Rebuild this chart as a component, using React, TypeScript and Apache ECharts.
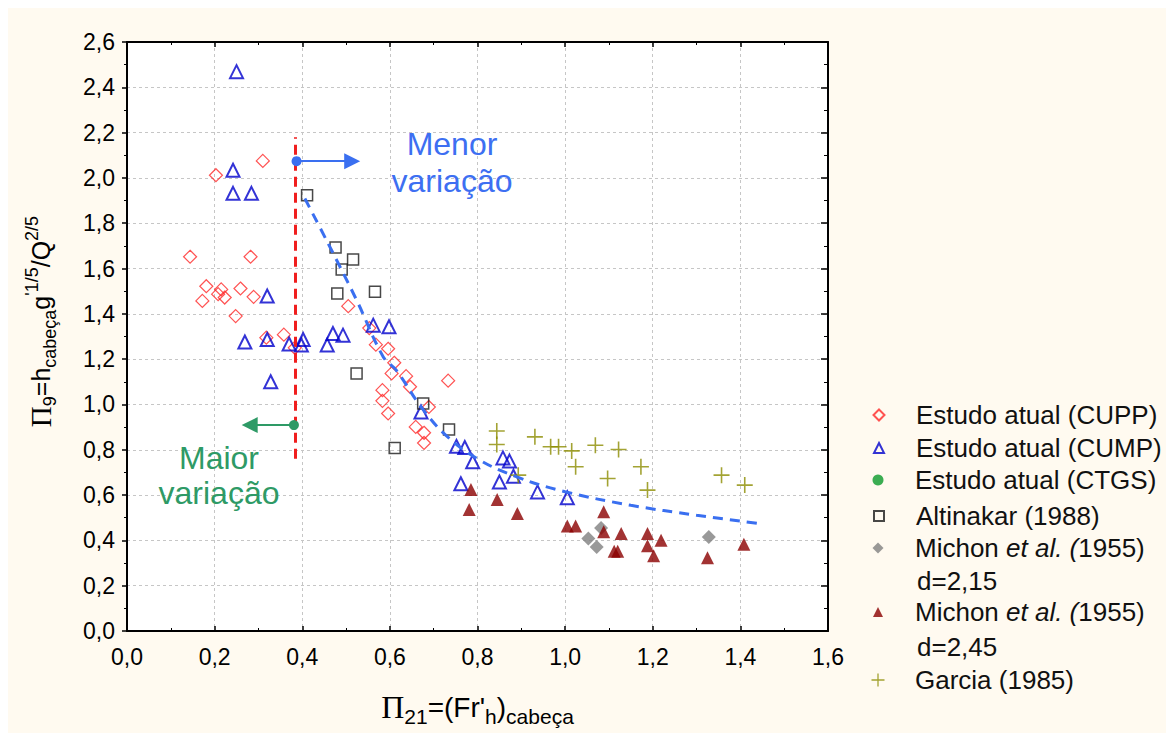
import React, { useEffect, useRef } from 'react';
import * as echarts from 'echarts';

const FONT = "'Liberation Sans', Arial, Helvetica, sans-serif";
const SERIF = "'Liberation Serif', 'Times New Roman', serif";

// ---- data ----
const seriesNames = [
  'Estudo atual (CUPP)',
  'Estudo atual (CUMP)',
  'Estudo atual (CTGS)',
  'Altinakar (1988)',
  'Michon et al. (1955) d=2,15',
  'Michon et al. (1955) d=2,45',
  'Garcia (1985)',
];

const cuppData = [
  [0.310, 2.075], [0.203, 2.012], [0.144, 1.652], [0.282, 1.652], [0.181, 1.522],
  [0.172, 1.457], [0.215, 1.508], [0.208, 1.487], [0.223, 1.472], [0.259, 1.512],
  [0.289, 1.475], [0.248, 1.390], [0.505, 1.434], [0.318, 1.295], [0.358, 1.308],
  [0.383, 1.250], [0.553, 1.337], [0.568, 1.264], [0.596, 1.246], [0.610, 1.184],
  [0.604, 1.137], [0.637, 1.125], [0.646, 1.078], [0.583, 1.063], [0.583, 1.016],
  [0.596, 0.960], [0.733, 1.105], [0.689, 0.989], [0.659, 0.901], [0.678, 0.875],
  [0.678, 0.830],
];

const cumpData = [
  [0.250, 2.469], [0.242, 2.034], [0.242, 1.932], [0.284, 1.932], [0.320, 1.479],
  [0.269, 1.276], [0.320, 1.287], [0.370, 1.267], [0.398, 1.262], [0.402, 1.287],
  [0.457, 1.262], [0.470, 1.313], [0.493, 1.306], [0.562, 1.350], [0.598, 1.343],
  [0.328, 1.100], [0.671, 0.967], [0.752, 0.815], [0.771, 0.810], [0.789, 0.747],
  [0.762, 0.650], [0.858, 0.764], [0.873, 0.750], [0.850, 0.658], [0.882, 0.683],
  [0.937, 0.614], [1.005, 0.588],
];

const ctgsData: number[][] = [];

const altinakarData = [
  [0.411, 1.924], [0.476, 1.693], [0.490, 1.596], [0.516, 1.640], [0.480, 1.490],
  [0.566, 1.497], [0.524, 1.137], [0.676, 1.004], [0.735, 0.890], [0.611, 0.808],
];

const michon215Data = [
  [1.053, 0.408], [1.072, 0.371], [1.082, 0.455], [1.328, 0.415],
];

const michon245Data = [
  [0.785, 0.625], [0.781, 0.536], [0.845, 0.581], [0.891, 0.519], [1.005, 0.464],
  [1.024, 0.464], [1.088, 0.526], [1.088, 0.438], [1.128, 0.430], [1.112, 0.352],
  [1.120, 0.352], [1.188, 0.430], [1.188, 0.376], [1.202, 0.332], [1.219, 0.401],
  [1.325, 0.323], [1.408, 0.383],
];

const garciaData = [
  [0.844, 0.883], [0.844, 0.823], [0.931, 0.857], [0.967, 0.813], [0.985, 0.813],
  [1.015, 0.795], [1.069, 0.820], [1.122, 0.801], [1.024, 0.725], [1.173, 0.725],
  [1.097, 0.673], [0.893, 0.688], [1.188, 0.622], [1.357, 0.688], [1.410, 0.644],
];

const trendData = [
  [0.406, 1.909], [0.459, 1.711], [0.524, 1.461], [0.585, 1.210], [0.615, 1.150],
  [0.671, 0.990], [0.730, 0.860], [0.800, 0.760], [0.890, 0.680], [1.000, 0.615],
  [1.150, 0.555], [1.300, 0.511], [1.444, 0.474],
];

const dividerLine = [[0.385, 0.76], [0.385, 2.18]];
const menorArrow = [[0.387, 2.074], [0.514, 2.074]];
const maiorArrow = [[0.381, 0.909], [0.280, 0.909]];

const xMin = 0, xMax = 1.6, xStep = 0.2;
const yMin = 0, yMax = 2.6, yStep = 0.2;

const fmt = (v: number) => v.toFixed(1).replace('.', ',');

const makeNameRich = (main: number, sub: number, pi: number, lh: number) => ({
  pi: { fontFamily: SERIF, fontSize: pi, lineHeight: lh, color: '#000', verticalAlign: 'middle' },
  n: { fontFamily: FONT, fontSize: main, lineHeight: lh, color: '#000', verticalAlign: 'middle' },
  sub: { fontFamily: FONT, fontSize: sub, lineHeight: sub - 1, color: '#000', verticalAlign: 'bottom' },
  sup: { fontFamily: FONT, fontSize: sub, lineHeight: sub - 1, color: '#000', verticalAlign: 'top' },
});

export default function App() {
  const ref = useRef<HTMLDivElement>(null);

  useEffect(() => {
    document.body.style.overflow = 'hidden';
    if (!ref.current) return;
    const chart = echarts.init(ref.current, undefined, { renderer: 'svg' });

    const axisLineStyle = { color: '#000', width: 2 };
    const splitLine = { show: true, lineStyle: { color: '#c6c6c6', type: [3, 3], width: 1 } };
    const labelStyle = { fontFamily: FONT, fontSize: 23, color: '#000', formatter: fmt };

    const symbolStyles: any[] = [
      { symbol: 'diamond', symbolSize: 13, itemStyle: { color: 'rgba(255,255,255,0)', borderColor: '#ff2828', borderWidth: 1.2 } },
      { symbol: 'triangle', symbolSize: 13, itemStyle: { color: 'rgba(255,255,255,0)', borderColor: '#0000cc', borderWidth: 2 } },
      { symbol: 'circle', symbolSize: 10, itemStyle: { color: '#0a9a2a' } },
      { symbol: 'rect', symbolSize: 11, itemStyle: { color: 'rgba(255,255,255,0)', borderColor: '#1a1a1a', borderWidth: 1.5 } },
      { symbol: 'diamond', symbolSize: 14, itemStyle: { color: '#808080' } },
      { symbol: 'triangle', symbolSize: 13, itemStyle: { color: '#8b0000' } },
      { symbol: 'path://M0,7.2H16V8.8H0ZM7.2,0H8.8V16H7.2Z', symbolSize: 16, itemStyle: { color: '#8c8c00' } },
    ];
    const datas = [cuppData, cumpData, ctgsData, altinakarData, michon215Data, michon245Data, garciaData];

    const scatterSeries = seriesNames.map((name, i) => ({
      type: 'scatter',
      name,
      data: datas[i],
      ...symbolStyles[i],
      z: 3,
    }));

    const legendCenters = [407, 440, 472, 508, 540, 604, 672];
    const legendSizes = [11, 10, 11, 10, 11, 10, 13];
    const legends = seriesNames.map((name, i) => {
      const s = legendSizes[i];
      return {
        show: true,
        data: [name],
        left: 870 - s / 2,
        top: legendCenters[i] - 15,
        orient: 'vertical',
        padding: 0,
        itemWidth: s,
        itemHeight: s,
        selectedMode: false,
        textStyle: {
          fontFamily: FONT, fontSize: 26, color: '#111', lineHeight: 30,
          rich: {
            sp: { width: 32 - s / 2, fontSize: 26, lineHeight: 30 },
            n: { fontFamily: FONT, fontSize: 26, color: '#111', lineHeight: 30 },
            i: { fontFamily: FONT, fontSize: 26, color: '#111', fontStyle: 'italic', lineHeight: 30 },
          },
        },
        formatter: (n: string) => {
          if (n.startsWith('Michon')) return '{sp|}{n|Michon }{i|et al. (}{n|1955)}';
          return '{sp|}{n|' + n + '}';
        },
      };
    });

    const option: any = {
      animation: false,
      backgroundColor: '#fffaf0',
      grid: { left: 119, right: 346, top: 34, bottom: 102, show: true, backgroundColor: '#ffffff', borderWidth: 0 },
      legend: legends,
      xAxis: [
        {
          type: 'value', min: xMin, max: xMax, interval: xStep, position: 'bottom',
          axisLine: { show: true, onZero: false, lineStyle: axisLineStyle },
          axisTick: { show: true, inside: true, length: 5, lineStyle: { color: '#000', width: 1.5 } },
          minorTick: { show: true, splitNumber: 2, length: 3, lineStyle: { color: '#000', width: 1 } },
          axisLabel: { ...labelStyle, margin: 14 },
          splitLine,
          name: '{pi|Π}{sub|21}{n|=(Fr\'}{sub|h}{n|)}{sub|cabeça}',
          nameLocation: 'middle',
          nameGap: 56,
          nameTextStyle: { rich: makeNameRich(28, 21, 32, 40) },
        },
        {
          type: 'value', min: xMin, max: xMax, interval: xStep, position: 'top',
          axisLine: { show: true, onZero: false, lineStyle: axisLineStyle },
          axisTick: { show: true, inside: true, length: 5, lineStyle: { color: '#000', width: 1.5 } },
          minorTick: { show: true, splitNumber: 2, length: 3, lineStyle: { color: '#000', width: 1 } },
          axisLabel: { show: false },
          splitLine: { show: false },
        },
      ],
      yAxis: [
        {
          type: 'value', min: yMin, max: yMax, interval: yStep, position: 'left',
          axisLine: { show: true, onZero: false, lineStyle: axisLineStyle },
          axisTick: { show: true, inside: false, length: 5, lineStyle: { color: '#000', width: 1.5 } },
          minorTick: { show: true, splitNumber: 2, length: 3, lineStyle: { color: '#000', width: 1 } },
          axisLabel: { ...labelStyle, margin: 12 },
          splitLine,
          name: '{pi|Π}{sub|9}{n|=h}{sub|cabeça}{n|g}{sup|\'1/5}{n|/Q}{sup|2/5}',
          nameLocation: 'middle',
          nameGap: 68,
          nameRotate: 90,
          nameTextStyle: { rich: makeNameRich(25, 18, 29, 36), padding: [0, 0, 0, 30] },
        },
        {
          type: 'value', min: yMin, max: yMax, interval: yStep, position: 'right',
          axisLine: { show: true, onZero: false, lineStyle: axisLineStyle },
          axisTick: { show: true, inside: true, length: 7, lineStyle: { color: '#000', width: 1.5 } },
          minorTick: { show: true, splitNumber: 2, length: 4, lineStyle: { color: '#000', width: 1 } },
          axisLabel: { show: false },
          splitLine: { show: false },
        },
      ],
      series: [
        ...scatterSeries,
        {
          type: 'line',
          name: 'trend',
          data: trendData,
          smooth: 0.4,
          showSymbol: false,
          symbol: 'none',
          z: 4,
          lineStyle: { color: '#3a6ff0', width: 3, type: [10, 7] },
          markLine: {
            silent: true,
            animation: false,
            label: { show: false },
            emphasis: { disabled: true },
            data: [
              [
                { coord: dividerLine[0], symbol: 'none', lineStyle: { color: '#f01e1e', width: 3, type: [10, 6] } },
                { coord: dividerLine[1], symbol: 'none' },
              ],
              [
                { coord: menorArrow[0], symbol: 'circle', symbolSize: 10, lineStyle: { color: '#3a6ff0', width: 2, type: 'solid' } },
                { coord: menorArrow[1], symbol: 'triangle', symbolSize: 16 },
              ],
              [
                { coord: maiorArrow[0], symbol: 'circle', symbolSize: 10, lineStyle: { color: '#2e9a66', width: 2, type: 'solid' } },
                { coord: maiorArrow[1], symbol: 'triangle', symbolSize: 16 },
              ],
            ],
          },
        },
      ],
      graphic: [
        {
          type: 'text', x: 444, y: 154, z: 10,
          style: { text: 'Menor\nvariação', fontFamily: FONT, fontSize: 32, lineHeight: 37, fill: '#3d6ff2', align: 'center', verticalAlign: 'middle' },
        },
        {
          type: 'text', x: 211, y: 467, z: 10,
          style: { text: 'Maior\nvariação', fontFamily: FONT, fontSize: 32, lineHeight: 35, fill: '#2e9a66', align: 'center', verticalAlign: 'middle' },
        },
        {
          type: 'text', x: 909, y: 573, z: 10,
          style: { text: 'd=2,15', fontFamily: FONT, fontSize: 26, fill: '#111', align: 'left', verticalAlign: 'middle' },
        },
        {
          type: 'text', x: 909, y: 639, z: 10,
          style: { text: 'd=2,45', fontFamily: FONT, fontSize: 26, fill: '#111', align: 'left', verticalAlign: 'middle' },
        },
      ],
    };

    chart.setOption(option);
    return () => chart.dispose();
  }, []);

  return <div ref={ref} style={{ width: 1166, height: 725 }} />;
}
